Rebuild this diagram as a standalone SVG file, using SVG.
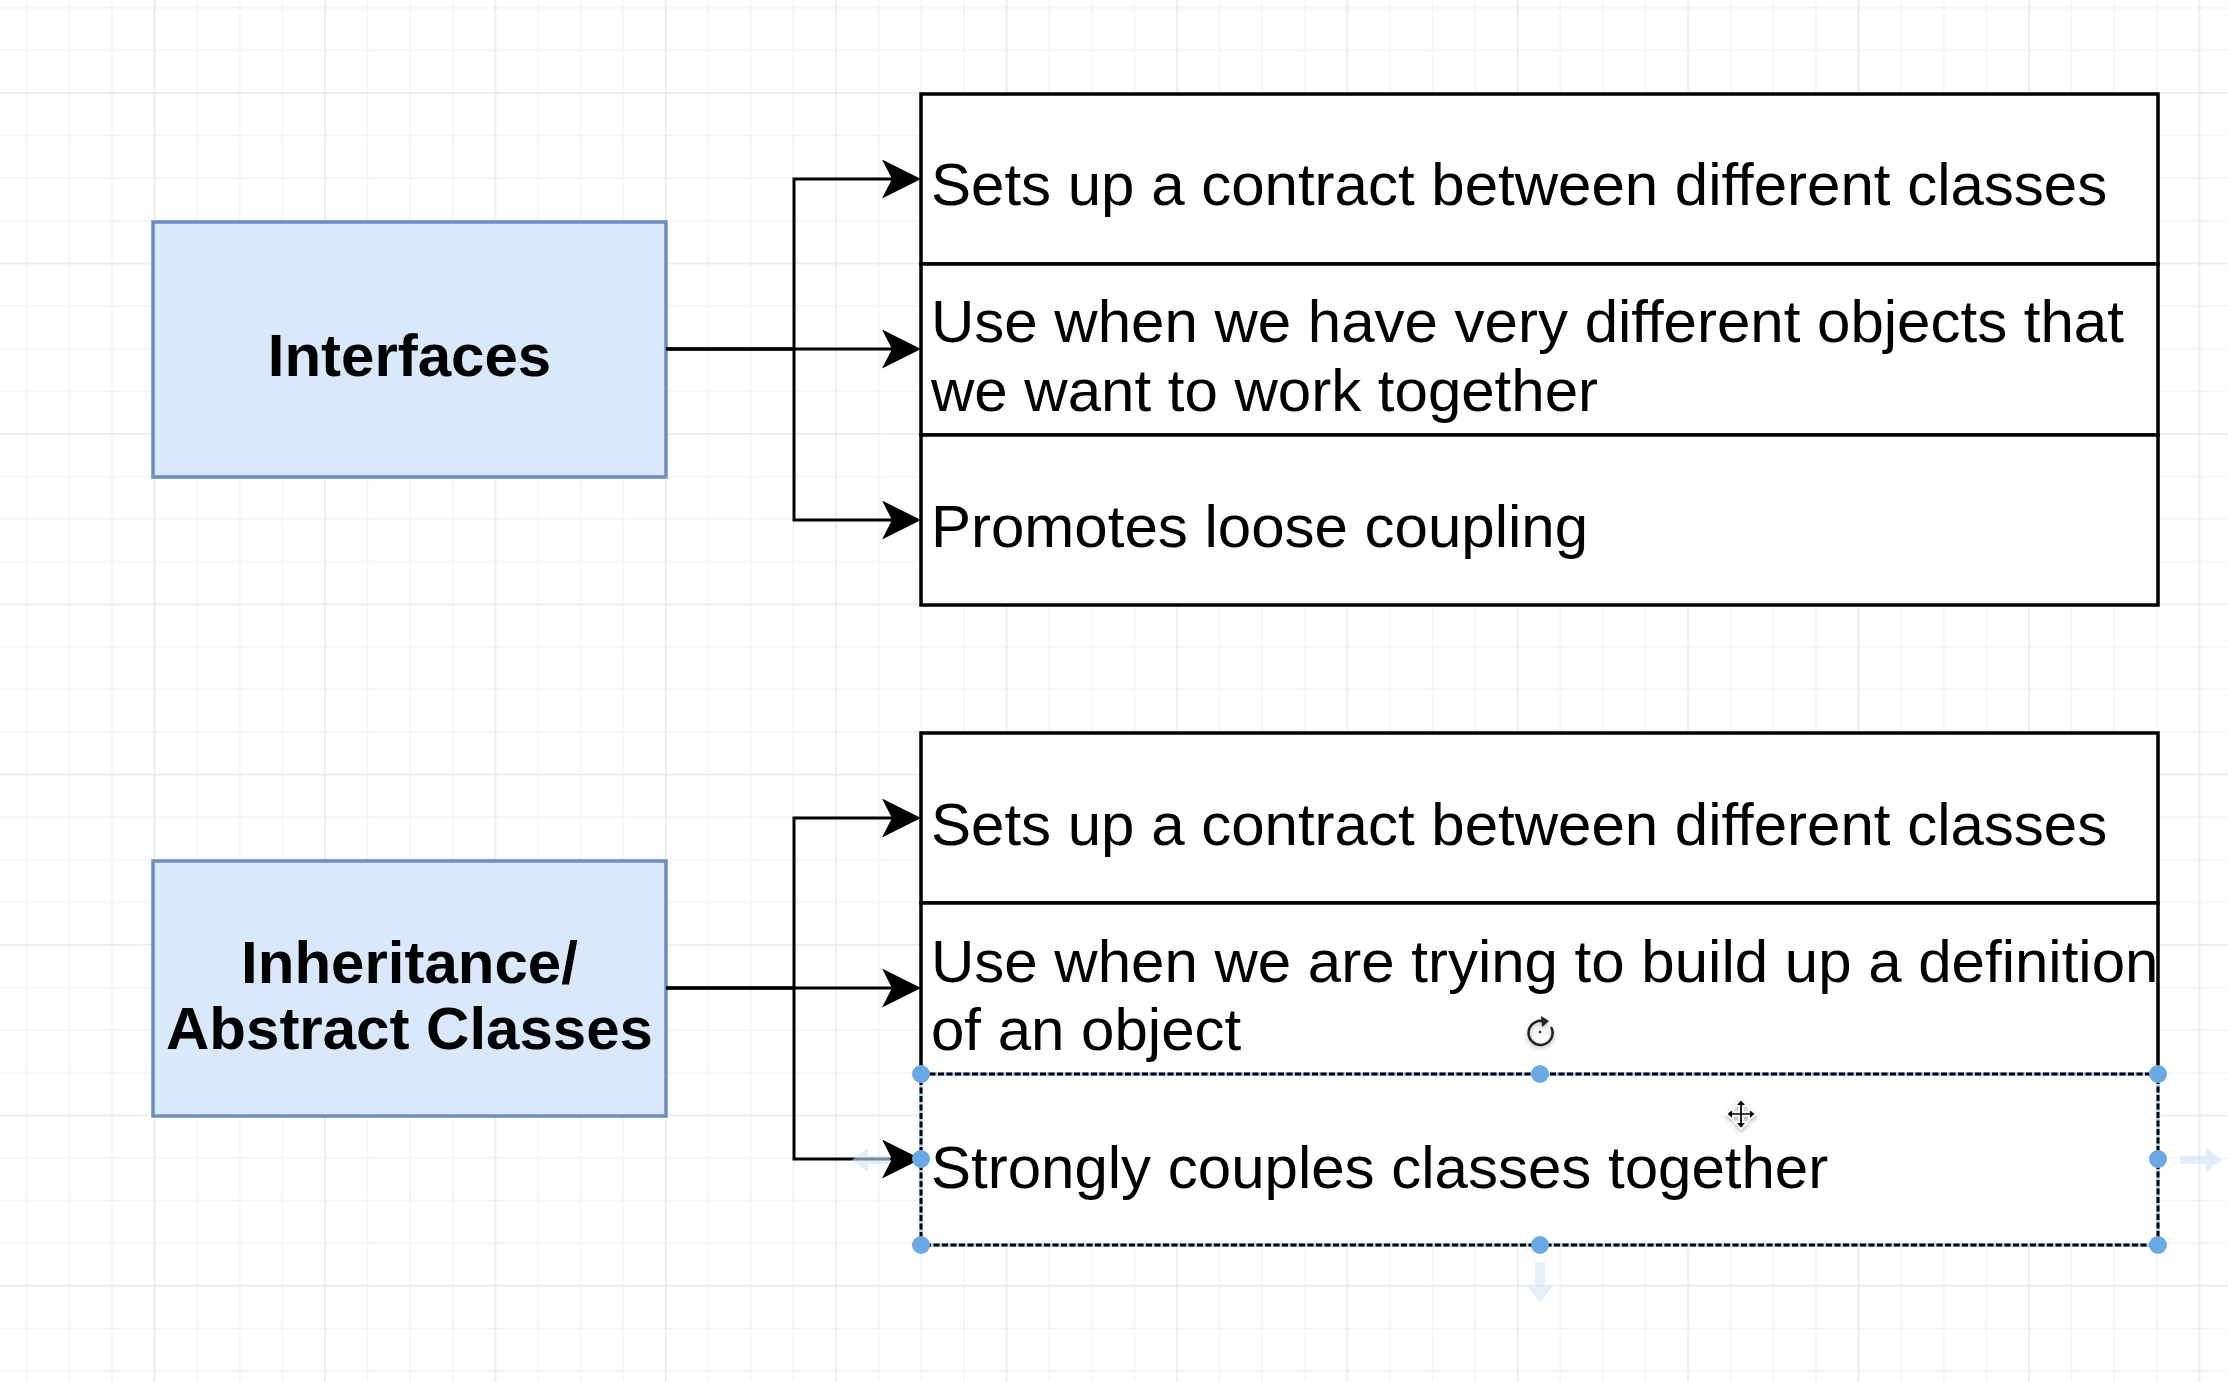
<svg xmlns="http://www.w3.org/2000/svg" width="2228" height="1382" viewBox="0 0 2228 1382">
  <defs>
    <pattern id="grid" patternUnits="userSpaceOnUse" x="153.75" y="92.25" width="170.4" height="170.4">
      <rect width="170.4" height="170.4" fill="#ffffff"/>
      <g fill="#f3f3f3">
        <rect x="42.6" y="0" width="1.5" height="170.4"/>
        <rect x="85.2" y="0" width="1.5" height="170.4"/>
        <rect x="127.8" y="0" width="1.5" height="170.4"/>
        <rect x="0" y="42.6" width="170.4" height="1.5"/>
        <rect x="0" y="85.2" width="170.4" height="1.5"/>
        <rect x="0" y="127.8" width="170.4" height="1.5"/>
      </g>
      <g fill="#e9e9e9">
        <rect x="0" y="0" width="1.5" height="170.4"/>
        <rect x="0" y="0" width="170.4" height="1.5"/>
      </g>
    </pattern>
    <marker id="arr" viewBox="0 0 39 39" refX="29" refY="19.5" markerWidth="39" markerHeight="39" orient="auto" markerUnits="userSpaceOnUse">
      <path d="M39,19.5 L0,0 L10,19.5 L0,39 Z" fill="#000000"/>
    </marker>
    <filter id="soft" x="-50%" y="-50%" width="200%" height="200%">
      <feDropShadow dx="0" dy="2" stdDeviation="2" flood-color="#000000" flood-opacity="0.3"/>
    </filter>
    <style>
      .hdr { fill: #dae8fc; stroke: #6c8ebf; stroke-width: 3.5; }
      .cell { fill: #ffffff; stroke: #000000; stroke-width: 3.5; }
      .sel { fill: none; stroke: #000000; stroke-width: 3; stroke-dasharray: 6 2.5; }
      .hdrtxt { font-family: "Liberation Sans", Arial, Helvetica, sans-serif; font-size: 60px; font-weight: bold; fill: #000000; text-anchor: middle; }
      .txt { font-family: "Liberation Sans", Arial, Helvetica, sans-serif; font-size: 60px; fill: #000000; }
      .edge { fill: none; stroke: #000000; stroke-width: 3; marker-end: url(#arr); }
      .handle { fill: #6aa9e3; }
      .hover { fill: #cfe4f7; opacity: 0.6; }
    </style>
  </defs>

  <rect x="0" y="0" width="2228" height="1382" fill="url(#grid)"/>

  <!-- Group 1 -->
  <g id="interfaces">
    <rect class="hdr" x="153" y="222" width="513" height="255"/>
    <text class="hdrtxt" x="409.5" y="376">Interfaces</text>
  </g>

  <g id="if-row1">
    <rect class="cell" x="921" y="94" width="1237" height="170"/>
    <text class="txt" x="931" y="205">Sets up a contract between different classes</text>
  </g>
  <g id="if-row2">
    <rect class="cell" x="921" y="264" width="1237" height="171"/>
    <text class="txt" x="931" y="342">Use when we have very different objects that</text>
    <text class="txt" x="931" y="411">we want to work together</text>
  </g>
  <g id="if-row3">
    <rect class="cell" x="921" y="435" width="1237" height="170"/>
    <text class="txt" x="931" y="547">Promotes loose coupling</text>
  </g>

  <!-- Group 2 -->
  <g id="inheritance">
    <rect class="hdr" x="153" y="861" width="513" height="255"/>
    <text class="hdrtxt" x="409.5" y="983">Inheritance/</text>
    <text class="hdrtxt" x="409.5" y="1049">Abstract Classes</text>
  </g>

  <g id="ih-row1">
    <rect class="cell" x="921" y="733" width="1237" height="170"/>
    <text class="txt" x="931" y="845">Sets up a contract between different classes</text>
  </g>
  <g id="ih-row2">
    <path d="M921,1074 L921,903 L2158,903 L2158,1074" fill="#ffffff" stroke="#000000" stroke-width="3.5"/>
    <text class="txt" x="931" y="982">Use when we are trying to build up a definition</text>
    <text class="txt" x="931" y="1050">of an object</text>
  </g>
  <g id="ih-row3">
    <rect x="921" y="1074" width="1237" height="171" fill="#ffffff" stroke="#a9d0f5" stroke-width="3.5"/>
    <rect class="sel" x="921" y="1074" width="1237" height="171"/>
    <text class="txt" x="931" y="1188">Strongly couples classes together</text>
  </g>

  <!-- Connectors -->
  <g id="connectors">
    <path class="edge" d="M666,349 L794,349 L794,179 L911,179"/>
    <path class="edge" d="M666,349 L911,349"/>
    <path class="edge" d="M666,349 L794,349 L794,520 L911,520"/>
    <path class="edge" d="M666,988 L794,988 L794,818 L911,818"/>
    <path class="edge" d="M666,988 L911,988"/>
    <path class="edge" d="M666,988 L794,988 L794,1159 L911,1159"/>
  </g>

  <!-- Selection overlay -->
  <g id="selection">
    <path class="hover" d="M2180,1156 L2206,1156 L2206,1148 L2222,1160 L2206,1172 L2206,1164 L2180,1164 Z"/>
    <path class="hover" d="M1535,1262 L1535,1286 L1527,1286 L1540,1302 L1553,1286 L1545,1286 L1545,1262 Z" />
    <path class="hover" d="M890,1156 L868,1156 L868,1148 L852,1160 L868,1172 L868,1164 L890,1164 Z" opacity="0.35"/>
    <circle class="handle" cx="921" cy="1074" r="9"/>
    <circle class="handle" cx="1540" cy="1074" r="9"/>
    <circle class="handle" cx="2158" cy="1074" r="9"/>
    <circle class="handle" cx="921" cy="1159" r="9"/>
    <circle class="handle" cx="2158" cy="1159" r="9"/>
    <circle class="handle" cx="921" cy="1245" r="9"/>
    <circle class="handle" cx="1540" cy="1245" r="9"/>
    <circle class="handle" cx="2158" cy="1245" r="9"/>
    <g filter="url(#soft)">
      <path d="M1546.5,1022.5 A12,12 0 1 0 1551,1027" fill="none" stroke="#222222" stroke-width="2.5"/>
      <path d="M1541,1016 L1549,1021 L1542,1027 Z" fill="#222222"/>
      <circle cx="1540" cy="1032" r="1.3" fill="#222222"/>
    </g>
    <g filter="url(#soft)" transform="translate(1741,1114) scale(1.15)">
      <path d="M0,-13 L5,-7 L1.5,-7 L1.5,-1.5 L7,-1.5 L7,-5 L13,0 L7,5 L7,1.5 L1.5,1.5 L1.5,7 L5,7 L0,13 L-5,7 L-1.5,7 L-1.5,1.5 L-7,1.5 L-7,5 L-13,0 L-7,-5 L-7,-1.5 L-1.5,-1.5 L-1.5,-7 L-5,-7 Z" fill="#000000" stroke="#ffffff" stroke-width="1.5"/>
    </g>
  </g>
</svg>
